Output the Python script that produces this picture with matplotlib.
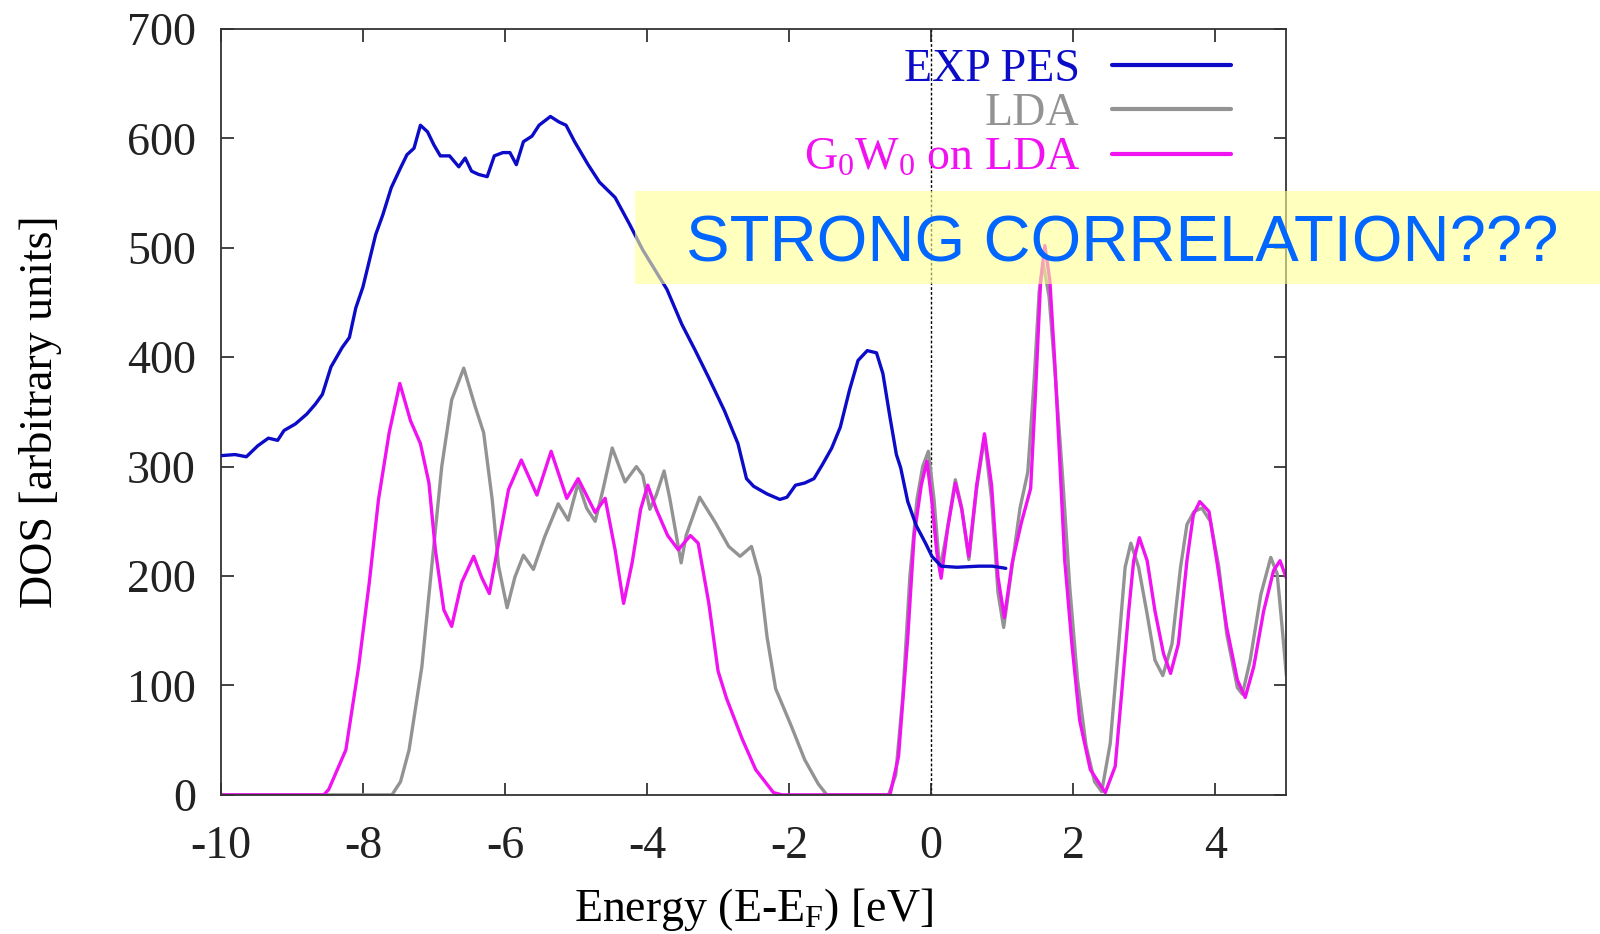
import matplotlib
matplotlib.use("Agg")
import matplotlib.pyplot as plt
from matplotlib.patches import Rectangle

plt.rcParams['font.family'] = ['Liberation Serif', 'DejaVu Serif']
plt.rcParams['mathtext.fontset'] = 'custom'
plt.rcParams['mathtext.rm'] = 'Liberation Serif'
plt.rcParams['mathtext.it'] = 'Liberation Serif:italic'
plt.rcParams['axes.unicode_minus'] = False

# ---------------- data ----------------
exp_x = [-10, -9.8, -9.64, -9.48, -9.33, -9.2, -9.11, -8.95, -8.79, -8.67, -8.57, -8.45,
         -8.29, -8.19, -8.1, -8.0, -7.91, -7.82, -7.72, -7.6, -7.47, -7.38, -7.28, -7.19,
         -7.09, -7.0, -6.91, -6.78, -6.65, -6.56, -6.47, -6.37, -6.25, -6.15, -6.03, -5.93,
         -5.84, -5.74, -5.62, -5.52, -5.36, -5.24, -5.14, -5.02, -4.83, -4.67, -4.45, -4.25,
         -4.06, -3.89, -3.72, -3.51, -3.32, -3.13, -2.91, -2.72, -2.6, -2.5, -2.31, -2.13,
         -2.03, -1.91, -1.78, -1.65, -1.53, -1.4, -1.28, -1.15, -1.03, -0.9, -0.77, -0.68,
         -0.58, -0.49, -0.43, -0.33, -0.21, -0.08, 0.01, 0.14, 0.36, 0.67, 0.86, 1.05]
exp_y = [310, 311, 309, 319, 326, 324, 333, 339, 348, 357, 366, 391,
         409, 418, 445, 464, 488, 512, 530, 555, 573, 585, 591, 612,
         606, 594, 584, 584, 574, 582, 570, 567, 565, 584, 587, 587,
         576, 597, 602, 612, 620, 615, 612, 597, 576, 560, 546, 522,
         498, 480, 462, 430, 406, 381, 351, 321, 289, 282, 275, 270,
         272, 283, 285, 289, 302, 317, 336, 370, 397, 406, 404, 385,
         345, 311, 299, 268, 246, 230, 218, 209, 208, 209, 209, 207]

lda_x = [-10, -7.59, -7.47, -7.35, -7.17, -7.03, -6.89, -6.75, -6.58, -6.42, -6.3, -6.18,
         -6.09, -5.97, -5.86, -5.74, -5.6, -5.44, -5.25, -5.11, -4.97, -4.85, -4.73, -4.62,
         -4.49, -4.31, -4.15, -4.06, -3.96, -3.87, -3.76, -3.68, -3.52, -3.45, -3.26, -3.04,
         -2.85, -2.69, -2.53, -2.41, -2.31, -2.19, -1.97, -1.78, -1.59, -1.47, -0.6, -0.5,
         -0.4, -0.3, -0.2, -0.12, -0.04, 0.04, 0.12, 0.22, 0.34, 0.43, 0.53, 0.64,
         0.75, 0.85, 0.94, 1.02, 1.12, 1.25, 1.36, 1.45, 1.52, 1.58, 1.66, 1.75,
         1.85, 1.95, 2.06, 2.18, 2.3, 2.4, 2.52, 2.64, 2.73, 2.81, 2.92, 3.04,
         3.15, 3.26, 3.39, 3.51, 3.6, 3.7, 3.81, 3.93, 4.05, 4.16, 4.31, 4.38,
         4.49, 4.64, 4.78, 4.87, 4.94, 5.0]
lda_y = [0, 0, 12, 41, 117, 209, 300, 361, 390, 355, 331, 270,
         209, 171, 199, 219, 206, 236, 266, 251, 285, 262, 250, 279,
         317, 286, 300, 292, 261, 274, 296, 271, 212, 237, 272, 249,
         227, 218, 227, 199, 144, 97, 63, 32, 10, 0, 0, 18,
         90, 200, 270, 300, 314, 270, 205, 240, 288, 262, 215, 280,
         327, 270, 185, 153, 200, 262, 295, 380, 460, 485, 455, 380,
         290, 190, 105, 45, 12, 3, 47, 138, 208, 230, 208, 165,
         123, 109, 138, 208, 247, 259, 262, 250, 208, 147, 98, 92,
         123, 183, 217, 202, 153, 109]

gw_x = [-10, -8.55, -8.48, -8.24, -8.06, -7.91, -7.78, -7.63, -7.48, -7.33, -7.19, -7.07,
        -6.98, -6.86, -6.75, -6.61, -6.44, -6.33, -6.22, -6.09, -5.95, -5.77, -5.55, -5.35,
        -5.13, -4.97, -4.73, -4.59, -4.45, -4.33, -4.21, -4.09, -3.99, -3.87, -3.71, -3.56,
        -3.39, -3.28, -3.13, -3.0, -2.88, -2.66, -2.47, -2.22, -2.1, -0.58, -0.46, -0.33,
        -0.24, -0.14, -0.06, 0.01, 0.08, 0.14, 0.23, 0.34, 0.43, 0.53, 0.64, 0.75,
        0.85, 0.94, 1.03, 1.14, 1.27, 1.4, 1.47, 1.54, 1.6, 1.67, 1.74, 1.81,
        1.88, 1.98, 2.09, 2.24, 2.45, 2.59, 2.68, 2.78, 2.85, 2.93, 3.04, 3.15,
        3.27, 3.37, 3.48, 3.6, 3.69, 3.78, 3.91, 4.02, 4.16, 4.31, 4.42, 4.54,
        4.68, 4.82, 4.91, 5.0]
gw_y = [0, 0, 5, 41, 117, 194, 270, 331, 376, 342, 321, 285,
        224, 169, 154, 194, 218, 199, 184, 230, 279, 306, 274, 314,
        271, 289, 258, 271, 224, 175, 212, 261, 283, 261, 237, 224,
        237, 230, 175, 113, 88, 51, 23, 2, 0, 0, 35, 144,
        237, 283, 305, 268, 221, 198, 243, 285, 261, 218, 283, 330,
        283, 199, 162, 212, 249, 280, 370, 470, 502, 470, 395, 305,
        214, 138, 68, 23, 2, 26, 92, 168, 214, 235, 214, 168,
        129, 111, 138, 214, 256, 268, 259, 214, 153, 105, 89, 117,
        168, 205, 214, 198]

series_labels = ['EXP PES', 'LDA', 'G$_0$W$_0$ on LDA']
series_colors = ['#0b0bc8', '#939393', '#f012f0']
x_ticks = [-10, -8, -6, -4, -2, 0, 2, 4]
y_ticks = [0, 100, 200, 300, 400, 500, 600, 700]

# ---------------- figure ----------------
fig = plt.figure(figsize=(16, 9.34), dpi=100)
ax = fig.add_axes([0.138, 0.149, 0.666, 0.820])

line_kw = dict(lw=2.4, solid_joinstyle='round', solid_capstyle='round')
ax.plot(exp_x, exp_y, color=series_colors[0], label=series_labels[0], zorder=3, **line_kw)
ax.plot(lda_x, lda_y, color=series_colors[1], label=series_labels[1], zorder=2, **line_kw)
ax.plot(gw_x, gw_y, color=series_colors[2], label=series_labels[2], zorder=2.5, **line_kw)
ax.axvline(0, color='black', lw=1.0, linestyle=(0, (2, 1.5)), zorder=1)

ax.set_xlim(-10, 5)
ax.set_ylim(0, 700)
ax.set_xticks(x_ticks)
ax.set_yticks(y_ticks)
ax.tick_params(direction='in', length=9, width=1.2, top=True, right=True,
               labelsize=33, colors='#222222')
ax.tick_params(axis='y', pad=18)
ax.tick_params(axis='x', pad=22)
for s in ax.spines.values():
    s.set_linewidth(1.3)
    s.set_color('#333333')

ax.set_xlabel('Energy (E-E$_\\mathrm{F}$) [eV]', fontsize=33, labelpad=13)
ax.set_ylabel('DOS [arbitrary units]', fontsize=33, labelpad=47)

leg = ax.legend(loc='upper right', bbox_to_anchor=(0.948, 0.975), frameon=False,
                markerfirst=False, labelcolor='linecolor', fontsize=33,
                handlelength=2.6, handletextpad=0.7, labelspacing=0.05,
                borderpad=0, borderaxespad=0)
for h in leg.get_lines():
    h.set_linewidth(3.0)

# annotation box
fig.add_artist(Rectangle((0.397, 0.696), 0.603, 0.0996, transform=fig.transFigure,
                         facecolor='#ffff93', edgecolor='none', alpha=0.6, zorder=10))
fig.text(0.429, 0.7195, 'STRONG CORRELATION???', fontsize=47, color='#0066ff',
         family=['Liberation Sans', 'DejaVu Sans'], va='baseline', ha='left', zorder=11)

fig.savefig('out.png', dpi=100)
